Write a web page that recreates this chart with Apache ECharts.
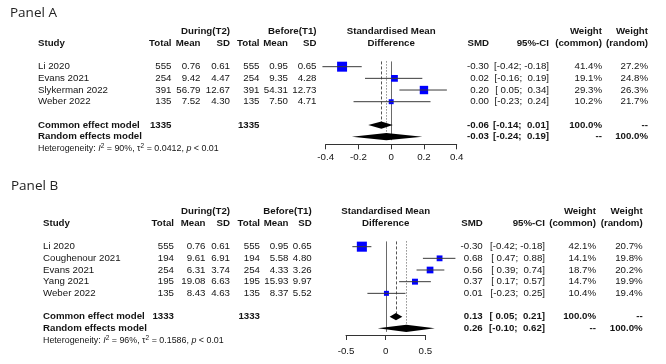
<!DOCTYPE html>
<html>
<head>
<meta charset="utf-8">
<script src="https://cdn.jsdelivr.net/npm/echarts@6/dist/echarts.min.js"></script>
<style>
html, body { margin: 0; padding: 0; background: #fff; }
#main { width: 666px; height: 364px; }
</style>
</head>
<body>
<div id="main"></div>
<script>
// ---- Panel A ----
var studiesA  = ['Li 2020', 'Evans 2021', 'Slykerman 2022', 'Weber 2022'];
var totT2A    = [555, 254, 391, 135];
var meanT2A   = [0.76, 9.42, 56.79, 7.52];
var sdT2A     = [0.61, 4.47, 12.67, 4.30];
var totT1A    = [555, 254, 391, 135];
var meanT1A   = [0.95, 9.35, 54.31, 7.50];
var sdT1A     = [0.65, 4.28, 12.73, 4.71];
var smdA      = [-0.30, 0.02, 0.20, 0.00];
var loA       = [-0.42, -0.16, 0.05, -0.23];
var hiA       = [-0.18, 0.19, 0.34, 0.24];
var wCommonA  = [41.4, 19.1, 29.3, 10.2];
var wRandomA  = [27.2, 24.8, 26.3, 21.7];
var commonA   = [-0.06, -0.14, 0.01];   // est, lo, hi
var randomA   = [-0.03, -0.24, 0.19];
var sumTotA   = [1335, 1335];
var hetA      = ['90%', '0.0412', '0.01'];
var ticksA    = [-0.4, 0.4, 0.2];       // min, max, step

// ---- Panel B ----
var studiesB  = ['Li 2020', 'Coughenour 2021', 'Evans 2021', 'Yang 2021', 'Weber 2022'];
var totT2B    = [555, 194, 254, 195, 135];
var meanT2B   = [0.76, 9.61, 6.31, 19.08, 8.43];
var sdT2B     = [0.61, 6.91, 3.74, 6.63, 4.63];
var totT1B    = [555, 194, 254, 195, 135];
var meanT1B   = [0.95, 5.58, 4.33, 15.93, 8.37];
var sdT1B     = [0.65, 4.80, 3.26, 9.97, 5.52];
var smdB      = [-0.30, 0.68, 0.56, 0.37, 0.01];
var loB       = [-0.42, 0.47, 0.39, 0.17, -0.23];
var hiB       = [-0.18, 0.88, 0.74, 0.57, 0.25];
var wCommonB  = [42.1, 14.1, 18.7, 14.7, 10.4];
var wRandomB  = [20.7, 19.8, 20.2, 19.9, 19.4];
var commonB   = [0.13, 0.05, 0.21];
var randomB   = [0.26, -0.10, 0.62];
var sumTotB   = [1333, 1333];
var hetB      = ['96%', '0.1586', '0.01'];
var ticksB    = [-0.5, 0.5, 0.5];

var FONT = '"Liberation Sans", Arial, sans-serif';
var FS = 9.7;
var INK = '#141414';

// column right edges (study is left edge)
var colsA = {study: 38, tot2: 171.5, mean2: 200.5, sd2: 230, tot1: 259.5, mean1: 288, sd1: 316.5,
             smd: 489, ci: 549, wc: 602, wr: 648};
var colsB = {study: 43, tot2: 174, mean2: 205.5, sd2: 230, tot1: 260, mean1: 288.5, sd1: 311.7,
             smd: 482.7, ci: 545, wc: 596, wr: 642.7};

function pad(v) { return v < 0 ? v.toFixed(2) : ' ' + v.toFixed(2); }
function ciText(lo, hi) { return '[' + pad(lo) + '; ' + pad(hi) + ']'; }
function pct(v) { return v.toFixed(1) + '%'; }

function buildLines(p) {
	var n = p.studies.length;
	var lines = [];
	lines.push({row: -3, cells: [
		['sd2', 'During(T2)', 1], ['sd1', 'Before(T1)', 1], ['mid', 'Standardised Mean', 1],
		['wc', 'Weight', 1], ['wr', 'Weight', 1]
	]});
	lines.push({row: -2, cells: [
		['study', 'Study', 1], ['tot2', 'Total', 1], ['mean2', 'Mean', 1], ['sd2', 'SD', 1],
		['tot1', 'Total', 1], ['mean1', 'Mean', 1], ['sd1', 'SD', 1], ['mid', 'Difference', 1],
		['smd', 'SMD', 1], ['ci', '95%-CI', 1], ['wc', '(common)', 1], ['wr', '(random)', 1]
	]});
	for (var i = 0; i < n; i++) {
		lines.push({row: i, cells: [
			['study', p.studies[i], 0], ['tot2', String(p.tot2[i]), 0], ['mean2', p.mean2[i].toFixed(2), 0],
			['sd2', p.sd2[i].toFixed(2), 0], ['tot1', String(p.tot1[i]), 0], ['mean1', p.mean1[i].toFixed(2), 0],
			['sd1', p.sd1[i].toFixed(2), 0], ['smd', p.smd[i].toFixed(2), 0], ['ci', ciText(p.lo[i], p.hi[i]), 0],
			['wc', pct(p.wc[i]), 0], ['wr', pct(p.wr[i]), 0]
		]});
	}
	lines.push({row: n + 1, cells: [
		['study', 'Common effect model', 1], ['tot2', String(p.sumTot[0]), 1], ['tot1', String(p.sumTot[1]), 1],
		['smd', p.common[0].toFixed(2), 1], ['ci', ciText(p.common[1], p.common[2]), 1],
		['wc', '100.0%', 1], ['wr', '--', 1]
	]});
	lines.push({row: n + 2, cells: [
		['study', 'Random effects model', 1], ['smd', p.random[0].toFixed(2), 1],
		['ci', ciText(p.random[1], p.random[2]), 1], ['wc', '--', 1], ['wr', '100.0%', 1]
	]});
	lines.push({row: n + 3, het: p.het});
	return lines;
}

var panelA = {studies: studiesA, tot2: totT2A, mean2: meanT2A, sd2: sdT2A, tot1: totT1A, mean1: meanT1A,
	sd1: sdT1A, smd: smdA, lo: loA, hi: hiA, wc: wCommonA, wr: wRandomA, common: commonA, random: randomA,
	sumTot: sumTotA, het: hetA};
var panelB = {studies: studiesB, tot2: totT2B, mean2: meanT2B, sd2: sdT2B, tot1: totT1B, mean1: meanT1B,
	sd1: sdT1B, smd: smdB, lo: loB, hi: hiB, wc: wCommonB, wr: wRandomB, common: commonB, random: randomB,
	sumTot: sumTotB, het: hetB};

function tableSeries(idx, p, cols) {
	var lines = buildLines(p);
	return {
		type: 'custom', xAxisIndex: idx, yAxisIndex: idx, silent: true, clip: false,
		data: lines.map(function (l) { return [0, l.row]; }),
		renderItem: function (params, api) {
			var line = lines[params.dataIndex];
			var y = api.coord([0, api.value(1)])[1];
			var mid = api.coord([0, 0])[0];
			if (line.het) {
				return {type: 'text', x: cols.study, y: y + 0.5, style: {
					text: 'Heterogeneity: {i|I}{s|2} = ' + line.het[0] + ', τ{s|2} = ' + line.het[1] + ', {i|p} < ' + line.het[2],
					fill: INK, font: '8.9px ' + FONT, align: 'left', verticalAlign: 'middle',
					rich: {
						i: {fontStyle: 'italic', fontSize: 8.9, fontFamily: FONT, fill: INK},
						s: {fontSize: 6.5, fontFamily: FONT, fill: INK, verticalAlign: 'top', padding: [0, 0, 5, 0]}
					}
				}};
			}
			var children = line.cells.map(function (c) {
				var x = c[0] === 'mid' ? mid : cols[c[0]];
				var align = c[0] === 'mid' ? 'center' : (c[0] === 'study' ? 'left' : 'right');
				return {type: 'text', x: x, y: y, style: {
					text: c[1], fill: INK, font: (c[2] ? 'bold ' : '') + FS + 'px ' + FONT,
					align: align, verticalAlign: 'middle'
				}};
			});
			return {type: 'group', children: children};
		},
		z: 5
	};
}

function studySeries(idx, p) {
	return {
		type: 'custom', xAxisIndex: idx, yAxisIndex: idx, silent: true, clip: false,
		data: p.smd.map(function (v, i) { return [v, i, p.lo[i], p.hi[i], p.wc[i]]; }),
		renderItem: function (params, api) {
			var c = api.coord([api.value(0), api.value(1)]);
			var a = api.coord([api.value(2), api.value(1)]);
			var b = api.coord([api.value(3), api.value(1)]);
			var s = 1.55 * Math.sqrt(api.value(4));
			return {type: 'group', children: [
				{type: 'rect', shape: {x: c[0] - s / 2, y: c[1] - s / 2, width: s, height: s},
					style: {fill: '#0000ff'}},
				{type: 'line', shape: {x1: a[0], y1: a[1], x2: b[0], y2: b[1]},
					style: {stroke: '#3a3a3a', lineWidth: 1}}
			]};
		},
		z: 4
	};
}

function diamondSeries(idx, p) {
	var n = p.studies.length;
	var rows = [[p.common[0], n + 1, p.common[1], p.common[2]], [p.random[0], n + 2, p.random[1], p.random[2]]];
	return {
		type: 'custom', xAxisIndex: idx, yAxisIndex: idx, silent: true, clip: false,
		data: rows,
		renderItem: function (params, api) {
			var c = api.coord([api.value(0), api.value(1)]);
			var a = api.coord([api.value(2), api.value(1)]);
			var b = api.coord([api.value(3), api.value(1)]);
			var h = 3.6;
			return {type: 'polygon', shape: {points: [[a[0], c[1]], [c[0], c[1] - h], [b[0], c[1]], [c[0], c[1] + h]]},
				style: {fill: '#000'}};
		},
		z: 4
	};
}

function refSeries(idx, p) {
	var n = p.studies.length;
	var rows = [
		[0, -0.45, n + 2.3, 0],
		[p.common[0], -0.45, n + 0.75, 1],
		[p.random[0], -0.45, n + 1.75, 2]
	];
	return {
		type: 'custom', xAxisIndex: idx, yAxisIndex: idx, silent: true, clip: false,
		data: rows,
		renderItem: function (params, api) {
			var t = api.coord([api.value(0), api.value(1)]);
			var b = api.coord([api.value(0), api.value(2)]);
			var kind = api.value(3);
			var x = Math.round(t[0]) + 0.5;
			return {type: 'line', shape: {x1: x, y1: t[1], x2: x, y2: b[1]},
				style: {stroke: kind === 0 ? '#6a6a6a' : '#555', lineWidth: 1,
					lineDash: kind === 0 ? null : (kind === 1 ? [3, 2] : [1, 2])}};
		},
		z: 2
	};
}

function xAxisFor(idx, t, margin) {
	return {
		gridIndex: idx, type: 'value', min: t[0], max: t[1], interval: t[2],
		axisLine: {show: true, onZero: false, lineStyle: {color: '#333', width: 1}},
		axisTick: {show: true, inside: false, length: 5, lineStyle: {color: '#333'}},
		axisLabel: {color: INK, fontSize: 9.7, fontFamily: FONT, margin: margin},
		splitLine: {show: false}
	};
}

var chart = echarts.init(document.getElementById('main'));
chart.setOption({
	backgroundColor: '#fff',
	animation: false,
	title: [
		{text: 'Panel A', left: 10, top: 6, padding: 0,
			textStyle: {fontFamily: '"Open Sans", "Noto Sans", sans-serif', fontSize: 13.5, fontWeight: 'normal', color: '#222'}},
		{text: 'Panel B', left: 11, top: 179, padding: 0,
			textStyle: {fontFamily: '"Open Sans", "Noto Sans", sans-serif', fontSize: 13.5, fontWeight: 'normal', color: '#222'}}
	],
	grid: [
		{left: 325.7, width: 131, top: 20, height: 124.3},
		{left: 346, width: 79.3, top: 200, height: 135}
	],
	xAxis: [xAxisFor(0, ticksA, 8), xAxisFor(1, ticksB, 11)],
	yAxis: [
		{gridIndex: 0, type: 'value', min: -4, max: 6.65, inverse: true, show: false},
		{gridIndex: 1, type: 'value', min: -4, max: 7.57, inverse: true, show: false}
	],
	series: [
		refSeries(0, panelA), studySeries(0, panelA), diamondSeries(0, panelA), tableSeries(0, panelA, colsA),
		refSeries(1, panelB), studySeries(1, panelB), diamondSeries(1, panelB), tableSeries(1, panelB, colsB)
	]
});
</script>
</body>
</html>
